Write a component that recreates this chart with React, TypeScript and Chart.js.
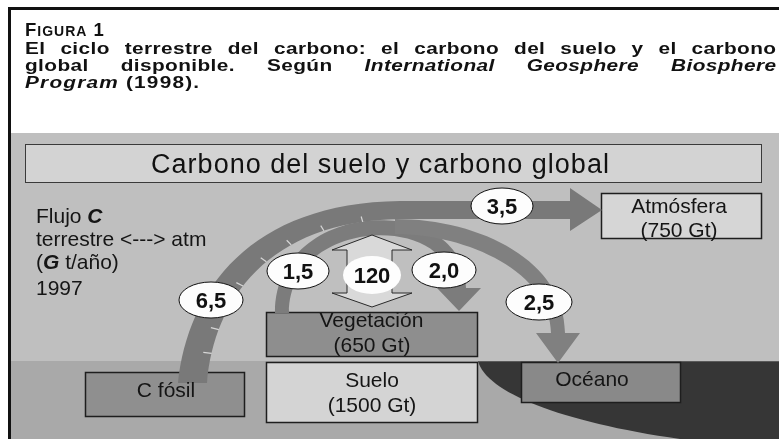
import React, { useEffect, useRef } from 'react';
import { Chart, registerables } from 'chart.js';

Chart.register(...registerables);

// ---------- DATA ----------
const figureNumber = 1;
const titleLine1 = 'El ciclo terrestre del carbono: el carbono del suelo y el carbono';
const titleLine2Plain = 'global disponible. Según ';
const titleLine2Italic = 'International Geosphere Biosphere';
const titleLine3Italic = 'Program';
const sourceYear = 1998;
const headerText = 'Carbono del suelo y carbono global';

const fluxYear = 1997;
const poolNames = ['Atmósfera', 'Vegetación', 'Suelo', 'C fósil', 'Océano'];
const poolStocksGt: (number | null)[] = [750, 650, 1500, null, null];

const fluxNames = ['C fósil → atm', 'veg → atm', 'veg ↔ atm', 'atm → veg', 'aumento atm', 'atm → océano'];
const fluxValues = [6.5, 1.5, 120, 2.0, 3.5, 2.5];

// ---------- LAYOUT (geometry & styles, not data) ----------
const FONT = '"Liberation Sans", Arial, Helvetica, sans-serif';
const poolBoxes: [number, number, number, number][] = [
  [601, 193, 161, 46],
  [266, 312, 212, 45],
  [266, 362, 212, 61],
  [85, 372, 160, 45],
  [521, 362, 160, 41],
];
const poolFills = ['#d6d6d6', '#8e8e8e', '#d4d4d4', '#8f8f8f', '#898989'];
const poolTextCenters: [number, number, number][] = [
  [679, 213, 237],
  [372, 327, 352],
  [372, 387, 412],
  [166, 397, 0],
  [592, 386, 0],
];
const fluxEllipses: [number, number, number, number, boolean][] = [
  [211, 300, 32, 18, true],
  [298, 271, 31, 18, true],
  [372, 275, 29, 19, false],
  [444, 270, 32, 18, true],
  [502, 206, 31, 18, true],
  [539, 302, 33, 18, true],
];

const fmt = (v: number) => (v >= 10 ? String(v) : v.toFixed(1).replace('.', ','));

type Pt = [number, number];
const bz = (p0: Pt, p1: Pt, p2: Pt, p3: Pt, t: number): Pt => {
  const a = (1 - t) ** 3, b = 3 * (1 - t) ** 2 * t, c = 3 * (1 - t) * t * t, d = t ** 3;
  return [a * p0[0] + b * p1[0] + c * p2[0] + d * p3[0], a * p0[1] + b * p1[1] + c * p2[1] + d * p3[1]];
};

const diagramPlugin = {
  id: 'carbonDiagram',
  afterDraw(chart: any) {
    const ctx: CanvasRenderingContext2D = chart.ctx;
    const xs = chart.scales.x, ys = chart.scales.y;
    const X = (v: number) => xs.getPixelForValue(v);
    const Y = (v: number) => ys.getPixelForValue(v);
    const W = (x: number, w: number) => X(x + w) - X(x);
    const H = (y: number, h: number) => Y(y + h) - Y(y);

    const poly = (pts: Pt[], fill: string, stroke?: string, lw = 1) => {
      ctx.beginPath();
      pts.forEach((p, i) => (i ? ctx.lineTo(X(p[0]), Y(p[1])) : ctx.moveTo(X(p[0]), Y(p[1]))));
      ctx.closePath();
      ctx.fillStyle = fill;
      ctx.fill();
      if (stroke) { ctx.strokeStyle = stroke; ctx.lineWidth = lw; ctx.stroke(); }
    };
    const rect = (x: number, y: number, w: number, h: number, fill: string, stroke?: string, lw = 1) => {
      ctx.fillStyle = fill;
      ctx.fillRect(X(x), Y(y), W(x, w), H(y, h));
      if (stroke) { ctx.strokeStyle = stroke; ctx.lineWidth = lw; ctx.strokeRect(X(x) + 0.5, Y(y) + 0.5, W(x, w) - 1, H(y, h) - 1); }
    };
    const M = (p: Pt) => ctx.moveTo(X(p[0]), Y(p[1]));
    const L = (p: Pt) => ctx.lineTo(X(p[0]), Y(p[1]));
    const C = (a: Pt, b: Pt, c: Pt) => ctx.bezierCurveTo(X(a[0]), Y(a[1]), X(b[0]), Y(b[1]), X(c[0]), Y(c[1]));

    type Run = { t: string; f: string };
    const runsWidth = (runs: Run[], ls: number, sx = 1) => {
      let w = 0, n = 0;
      for (const r of runs) { ctx.font = r.f; for (const ch of r.t) { w += ctx.measureText(ch).width * sx + ls; n++; } }
      return n ? w - ls : 0;
    };
    const drawRuns = (runs: Run[], x: number, y: number, ls = 0, extraSpace = 0, sx = 1) => {
      let cx = X(x);
      for (const r of runs) {
        ctx.font = r.f;
        if (ls === 0 && extraSpace === 0 && sx === 1) { ctx.fillText(r.t, cx, Y(y)); cx += ctx.measureText(r.t).width; continue; }
        for (const ch of r.t) {
          ctx.save();
          ctx.translate(cx, Y(y));
          ctx.scale(sx, 1);
          ctx.fillText(ch, 0, 0);
          ctx.restore();
          cx += ctx.measureText(ch).width * sx + ls + (ch === ' ' ? extraSpace : 0);
        }
      }
    };
    const justify = (runs: Run[], x0: number, x1: number, y: number, ls: number, sx: number) => {
      const nat = runsWidth(runs, ls, sx);
      const spaces = runs.reduce((s, r) => s + (r.t.match(/ /g) || []).length, 0);
      const extra = spaces ? (W(x0, x1 - x0) - nat) / spaces : 0;
      drawRuns(runs, x0, y, ls, extra, sx);
    };
    const centerText = (t: string, font: string, cx: number, y: number, ls = 0) => {
      const runs = [{ t, f: font }];
      const w = runsWidth(runs, ls);
      ctx.textAlign = 'left';
      drawRuns(runs, xs.getValueForPixel(X(cx) - w / 2), y, ls);
    };

    ctx.save();
    ctx.textBaseline = 'alphabetic';
    ctx.textAlign = 'left';

    // page
    ctx.fillStyle = '#ffffff';
    ctx.fillRect(X(0), Y(0), W(0, 779), H(0, 439));

    // outer frame (top + left)
    rect(8, 7, 771, 3, '#111111');
    rect(8, 7, 3, 432, '#111111');

    // title
    ctx.fillStyle = '#111111';
    const TS = 16.8, SX = 1.24, LS = 0.4;
    const B16 = `bold ${TS}px ${FONT}`, BI16 = `italic bold ${TS}px ${FONT}`;
    drawRuns([
      { t: 'F', f: `bold 18.5px ${FONT}` },
      { t: 'IGURA', f: `bold 14px ${FONT}` },
      { t: ` ${figureNumber}`, f: `bold 18.5px ${FONT}` },
    ], 25, 36, 1);
    justify([{ t: titleLine1, f: B16 }], 25, 776, 54, LS, SX);
    justify([{ t: titleLine2Plain, f: B16 }, { t: titleLine2Italic, f: BI16 }], 25, 776, 71, LS, SX);
    drawRuns([{ t: titleLine3Italic, f: BI16 }, { t: ` (${sourceYear}).`, f: B16 }], 25, 87.5, LS + 0.8, 0, SX);

    // panel backgrounds
    rect(11, 133, 768, 228, '#bfbfbf');
    rect(11, 361, 768, 78, '#a9a9a9');
    // ocean
    ctx.beginPath();
    M([478, 361]); C([486, 392], [560, 422], [680, 439]); L([779, 439]); L([779, 361]); ctx.closePath();
    ctx.fillStyle = '#363636'; ctx.fill();
    ctx.beginPath(); M([478, 361.5]); L([779, 361.5]); ctx.strokeStyle = '#5a5a5a'; ctx.lineWidth = 1; ctx.stroke();

    // header box
    rect(25, 144, 737, 39, '#d3d3d3', '#3a3a3a', 1);
    ctx.fillStyle = '#111111';
    centerText(headerText, `27px ${FONT}`, 380, 173, 1);

    // pools
    poolNames.forEach((name, i) => {
      const [x, y, w, h] = poolBoxes[i];
      rect(x, y, w, h, poolFills[i], '#1e1e1e', 1.5);
    });

    // flux bands
    const bandCol = '#7c7c7c';
    // inner arc (1,5 / 2,0)
    ctx.beginPath();
    M([275, 313]); C([275, 196], [466, 192], [466, 288]); L([481, 288]); L([459, 311]); L([437, 288]); L([452, 288]);
    C([452, 212], [289, 216], [289, 313]); ctx.closePath();
    ctx.fillStyle = bandCol; ctx.fill();
    // ocean arc (2,5)
    ctx.beginPath();
    M([395, 219]); C([482, 219], [565, 262], [565, 333]); L([580, 333]); L([558, 363]); L([536, 333]); L([551, 333]);
    C([551, 273], [468, 234], [395, 234]); ctx.closePath();
    ctx.fillStyle = '#808080'; ctx.fill();
    // big arc (6,5 -> 3,5)
    const o0: Pt = [178, 383], o1: Pt = [188, 290], o2: Pt = [250, 203], o3: Pt = [400, 201];
    const i0: Pt = [207, 383], i1: Pt = [214, 300], i2: Pt = [268, 221], i3: Pt = [400, 219];
    ctx.beginPath();
    M(o0); C(o1, o2, o3); L([570, 201]); L([570, 188]); L([602, 210]); L([570, 231]); L([570, 219]); L(i3);
    C(i2, i1, i0); ctx.closePath();
    ctx.fillStyle = '#797979'; ctx.fill();
    // light texture ticks
    ctx.strokeStyle = 'rgba(232,232,232,0.85)'; ctx.lineWidth = 1.2;
    [0.12, 0.22, 0.42, 0.55, 0.66, 0.78, 0.9].forEach((t) => {
      const a = bz(i0, i1, i2, i3, t), b = bz(o0, o1, o2, o3, t);
      const e: Pt = [a[0] + (b[0] - a[0]) * 0.3, a[1] + (b[1] - a[1]) * 0.3];
      ctx.beginPath(); M(a); L(e); ctx.stroke();
    });

    // 120 double arrow
    poly([[372, 235], [412, 250], [392, 250], [392, 293], [412, 293], [372, 307], [332, 293], [347, 293], [347, 250], [332, 250]],
      '#d9d9d9', '#2a2a2a', 1);

    // flux ellipses
    fluxValues.forEach((v, i) => {
      const [cx, cy, rx, ry, outline] = fluxEllipses[i];
      ctx.beginPath();
      ctx.ellipse(X(cx), Y(cy), W(cx, rx), H(cy, ry), 0, 0, Math.PI * 2);
      ctx.fillStyle = '#fdfdfd'; ctx.fill();
      if (outline) { ctx.strokeStyle = '#111111'; ctx.lineWidth = 1; ctx.stroke(); }
      ctx.fillStyle = '#111111';
      centerText(fmt(v), `bold 22px ${FONT}`, cx, cy + 8);
    });

    // pool labels
    ctx.fillStyle = '#151515';
    const F21 = `21px ${FONT}`;
    poolNames.forEach((name, i) => {
      const [cx, y1, y2] = poolTextCenters[i];
      centerText(name, F21, cx, y1);
      const s = poolStocksGt[i];
      if (s !== null && y2) centerText(`(${s} Gt)`, F21, cx, y2);
    });

    // legend text
    const BI21 = `italic bold 21px ${FONT}`;
    drawRuns([{ t: 'Flujo ', f: F21 }, { t: 'C', f: BI21 }], 36, 223);
    drawRuns([{ t: 'terrestre <---> atm', f: F21 }], 36, 246);
    drawRuns([{ t: '(', f: F21 }, { t: 'G', f: BI21 }, { t: ' t/año)', f: F21 }], 36, 269);
    drawRuns([{ t: String(fluxYear), f: F21 }], 36, 295);

    ctx.restore();
  },
};

export default function App() {
  const ref = useRef<HTMLCanvasElement | null>(null);
  useEffect(() => {
    if (!ref.current) return;
    const chart = new Chart(ref.current, {
      type: 'scatter',
      data: { datasets: [{ label: fluxNames.join(', '), data: [], pointRadius: 0 }] },
      options: {
        animation: false,
        responsive: false,
        devicePixelRatio: 1,
        events: [],
        layout: { padding: 0 },
        plugins: { legend: { display: false }, tooltip: { enabled: false }, title: { display: false } },
        scales: {
          x: { type: 'linear', min: 0, max: 779, display: false },
          y: { type: 'linear', min: 0, max: 439, reverse: true, display: false },
        },
      },
      plugins: [diagramPlugin],
    });
    return () => chart.destroy();
  }, []);
  return (
    <div style={{ position: 'absolute', left: 0, top: 0, width: 779, height: 439 }}>
      <canvas ref={ref} width={779} height={439} style={{ display: 'block' }} />
    </div>
  );
}
